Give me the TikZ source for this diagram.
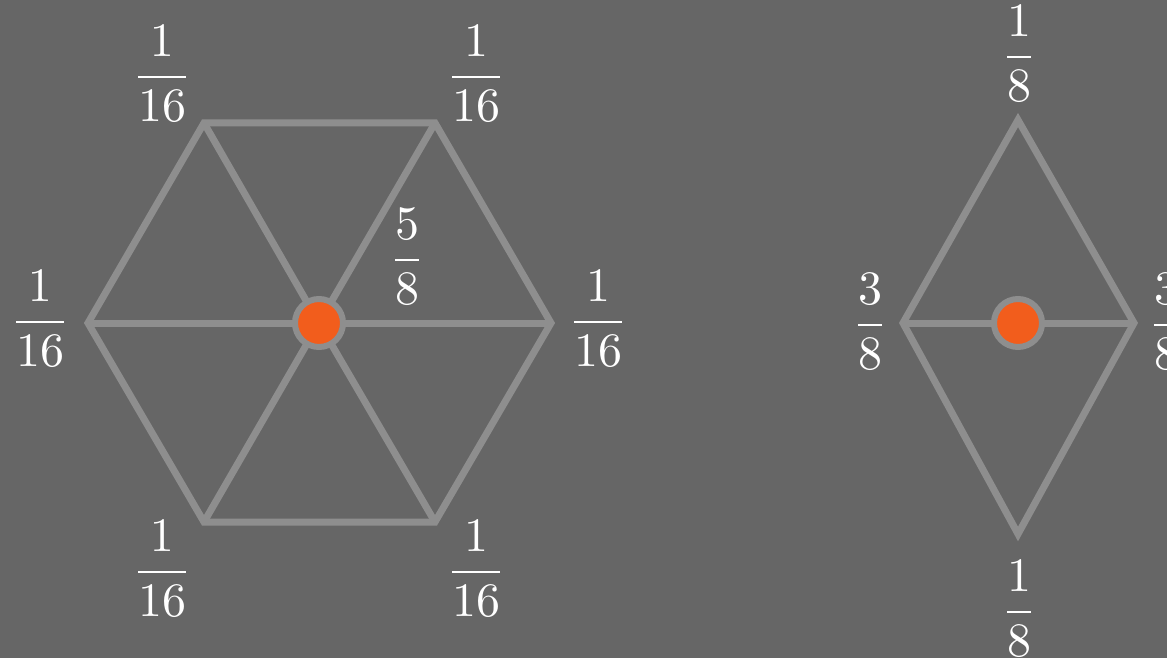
\documentclass[tikz,border=0pt]{standalone}
\usepackage{graphicx}
\definecolor{bgc}{HTML}{666666}
\definecolor{edgec}{HTML}{8E8E8E}
\definecolor{dotc}{HTML}{F25D1C}
\tikzset{
  edge/.style={draw=edgec,line width=7pt,line join=miter},
  dotnode/.style={circle,fill=dotc,draw=edgec,line width=6pt,minimum size=48pt,inner sep=0pt},
  frac/.style={text=white,inner sep=0pt,anchor=base},
}
\newcommand{\bigfr}[2]{\scalebox{4.8}{\nulldelimiterspace=0.6pt$\displaystyle{#1\above0.6pt #2}$}}
\begin{document}
\begin{tikzpicture}[x=1pt,y=-1pt]
\fill[bgc] (0,0) rectangle (1167,658);
\useasboundingbox (0,0) rectangle (1167,658);
% hexagon
\coordinate (hc) at (319,323);
\coordinate (hl) at (88,323);
\coordinate (hr) at (551,323);
\coordinate (htl) at (204,123);
\coordinate (htr) at (435,123);
\coordinate (hbl) at (204,522);
\coordinate (hbr) at (435,522);
\draw[edge] (hl) -- (htl) -- (htr) -- (hr) -- (hbr) -- (hbl) -- cycle;
\foreach \v in {hl,hr,htl,htr,hbl,hbr} \draw[edge] (hc) -- (\v);
\node[dotnode] (hdot) at (hc) {};
% diamond
\coordinate (dc) at (1018,323);
\coordinate (dt) at (1018,120);
\coordinate (db) at (1018,534);
\coordinate (dl) at (903,323);
\coordinate (dr) at (1134,323);
\draw[edge] (dt) -- (dr) -- (db) -- (dl) -- cycle;
\draw[edge] (dl) -- (dr);
\node[dotnode] (ddot) at (dc) {};
% labels (placed so that the fraction bar is at the given point)
\node[frac] (ltl) at (162,89) {\bigfr{1}{16}};
\node[frac] (ltr) at (476,89) {\bigfr{1}{16}};
\node[frac] (ll)  at (40,334) {\bigfr{1}{16}};
\node[frac] (lr)  at (598,334) {\bigfr{1}{16}};
\node[frac] (lbl) at (162,584) {\bigfr{1}{16}};
\node[frac] (lbr) at (476,584) {\bigfr{1}{16}};
\node[frac] (lc)  at (407,272) {\bigfr{5}{8}};
\node[frac] (dlt) at (1019,69) {\bigfr{1}{8}};
\node[frac] (dlb) at (1019,624) {\bigfr{1}{8}};
\node[frac] (dll) at (870,337) {\bigfr{3}{8}};
\node[frac] (dlr) at (1166,337) {\bigfr{3}{8}};
\end{tikzpicture}
\end{document}
